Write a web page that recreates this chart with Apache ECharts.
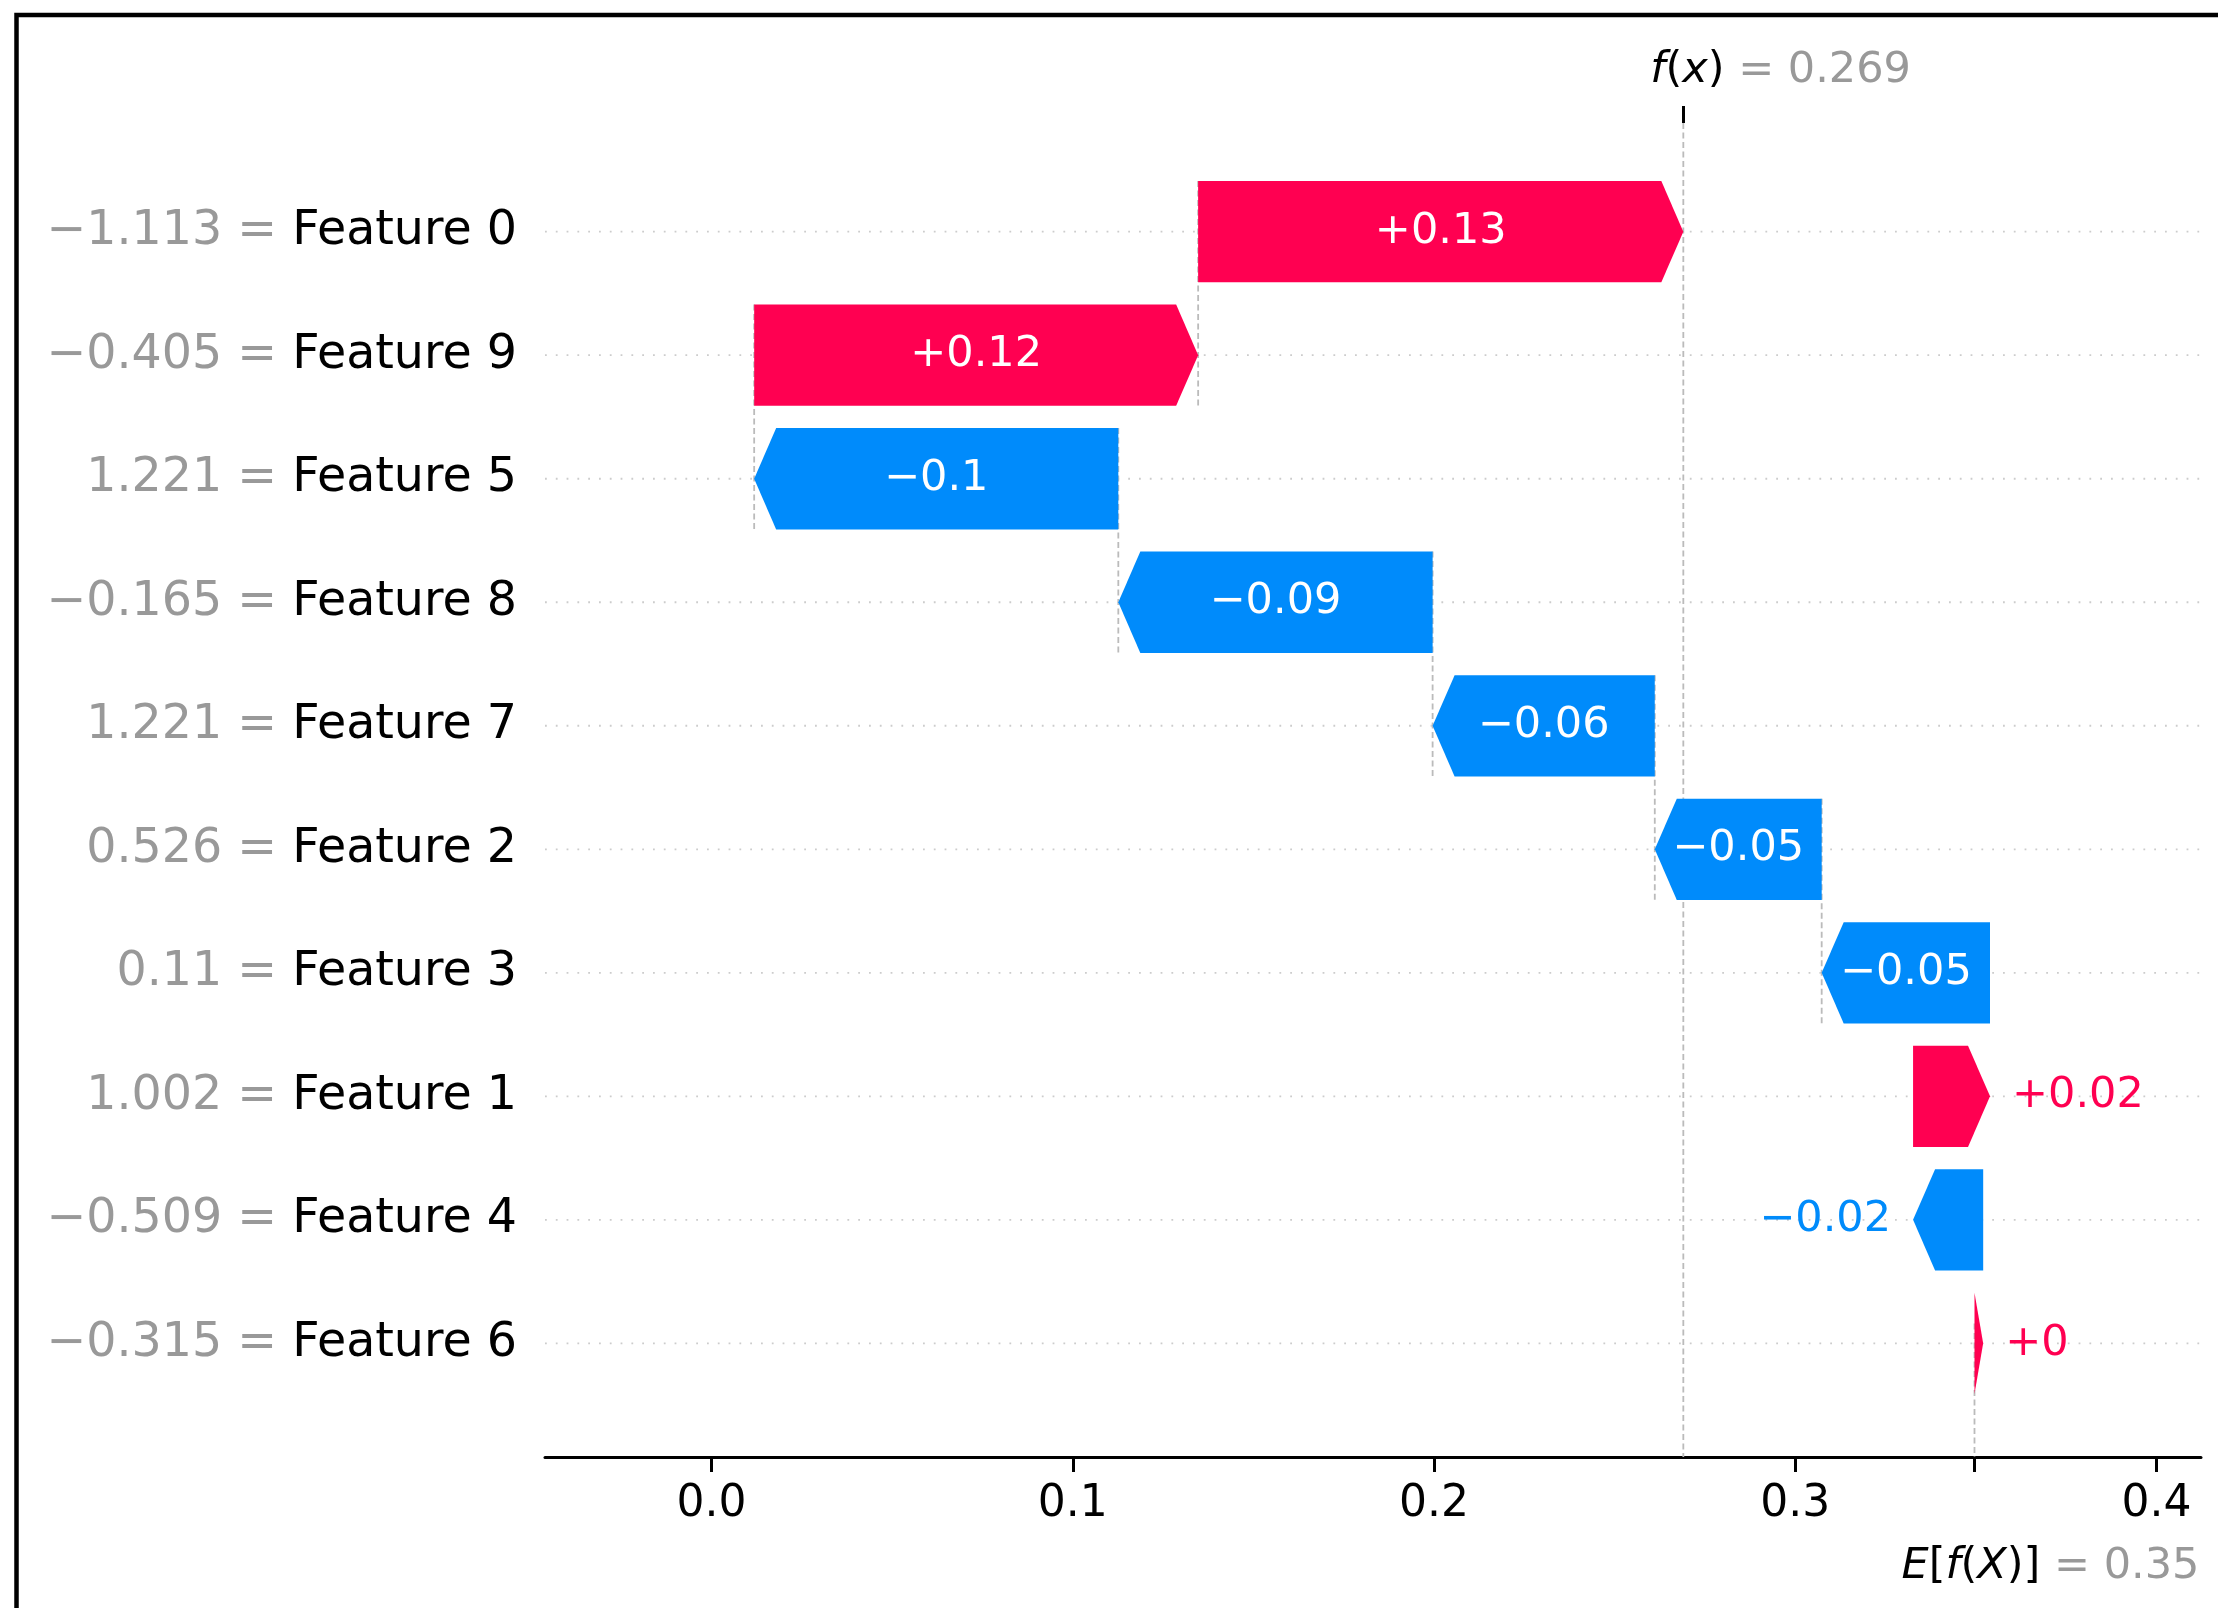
<!DOCTYPE html>
<html>
<head>
<meta charset="utf-8">
<title>waterfall</title>
<script src="https://cdn.jsdelivr.net/npm/echarts@6/dist/echarts.min.js"></script>
<style>
  html, body { margin: 0; padding: 0; background: #fff; }
  #chart { width: 2218px; height: 1608px; }
</style>
</head>
<body>
<div id="chart"></div>
<script>
// rows, top to bottom
const featureNames = ["Feature 0", "Feature 9", "Feature 5", "Feature 8", "Feature 7",
                      "Feature 2", "Feature 3", "Feature 1", "Feature 4", "Feature 6"];
const featureValues = [-1.113, -0.405, 1.221, -0.165, 1.221, 0.526, 0.11, 1.002, -0.509, -0.315];
const shapValues = [0.1343, 0.1229, -0.1008, -0.087, -0.0615, -0.0462, -0.0466, 0.0213, -0.0194, 0.0024];
const baseValue = 0.3496; // E[f(X)]
const xTicks = [0, 0.1, 0.2, 0.3, 0.4];

const X_MIN = -0.0461, X_MAX = 0.4123;
const Y_MIN = -0.88, Y_MAX = 9.92;
const BAR_HALF = 0.41;
const RED = "#ff0051", BLUE = "#008bfb";
const FONT = '"DejaVu Sans", sans-serif';

// matplotlib style numbers: trailing zeros dropped, real minus sign
function fmt(v, digits, plus) {
  let s = v.toFixed(digits);
  if (s.indexOf(".") >= 0) s = s.replace(/0+$/, "").replace(/\.$/, "");
  if (plus && v >= 0) s = "+" + s;
  return s.replace("-", "\u2212");
}

const fxValue = baseValue + shapValues.reduce((a, b) => a + b, 0);

// walk down from f(x): each bar ends where the previous one started
let loc = fxValue;
const barData = shapValues.map((v, i) => {
  const end = loc;
  const start = loc - v;
  loc = start;
  return [start, end, i, v];
});

const ctx = document.createElement("canvas").getContext("2d");
ctx.font = "43px " + FONT;

function renderGuide(params, api) {
  const start = api.value(0), i = api.value(2);
  const a = api.coord([X_MIN, i]), b = api.coord([X_MAX, i]);
  const children = [{
    type: "line",
    shape: { x1: a[0], y1: a[1], x2: b[0], y2: b[1] },
    style: { stroke: "#cccccc", lineWidth: 1.8, lineDash: [1.8, 9] }
  }];
  // connectors only for the upper rows, like shap does
  if (i + 4 < shapValues.length) {
    const t = api.coord([start, i - BAR_HALF]), btm = api.coord([start, i + 1 + BAR_HALF]);
    children.push({
      type: "line",
      shape: { x1: t[0], y1: t[1], x2: btm[0], y2: btm[1] },
      style: { stroke: "#bbbbbb", lineWidth: 1.8, lineDash: [6, 3.5] }
    });
  }
  return { type: "group", children: children };
}

function renderRefs(params, api) {
  const fx = api.value(0), base = api.value(1);
  const rowSpan = (Y_MAX - Y_MIN) / shapValues.length;
  const fTop = api.coord([fx, Y_MIN]), fBot = api.coord([fx, Y_MAX]);
  const eTop = api.coord([base, Y_MAX - rowSpan]), eBot = api.coord([base, Y_MAX]);
  const dash = { stroke: "#bbbbbb", lineWidth: 1.8, lineDash: [6, 3.5] };
  const rich = {
    i: { fontStyle: "italic", fill: "#000", color: "#000", fontSize: 43, fontFamily: FONT },
    n: { fill: "#000", color: "#000", fontSize: 43, fontFamily: FONT },
    g: { fill: "#999999", color: "#999999", fontSize: 43, fontFamily: FONT }
  };
  return {
    type: "group",
    children: [
      { type: "line", shape: { x1: fTop[0], y1: fTop[1], x2: fBot[0], y2: fBot[1] }, style: dash },
      { type: "line", shape: { x1: eTop[0], y1: eTop[1], x2: eBot[0], y2: eBot[1] }, style: dash },
      {
        type: "text", x: fTop[0] - 33, y: fTop[1] - 52,
        style: {
          text: "{i|f}{n|(}{i|x}{n|) }{g|= " + fmt(fx, 3) + "}",
          rich: rich, align: "left", verticalAlign: "middle", fontSize: 43, fontFamily: FONT
        }
      },
      {
        type: "text", x: eBot[0] - 73, y: eBot[1] + 110,
        style: {
          text: "{i|E}{n|[}{i|f}{n|(}{i|X}{n|)] }{g|= " + fmt(base, 3) + "}",
          rich: rich, align: "left", verticalAlign: "middle", fontSize: 43, fontFamily: FONT
        }
      }
    ]
  };
}

function renderBar(params, api) {
  const start = api.value(0), end = api.value(1), i = api.value(2), v = api.value(3);
  const color = v >= 0 ? RED : BLUE;
  const pTop = api.coord([start, i - BAR_HALF]);
  const pBot = api.coord([start, i + BAR_HALF]);
  const pMid = api.coord([end, i]);
  const x0 = pTop[0], x1 = pMid[0], yT = pTop[1], yB = pBot[1], yM = pMid[1];
  const w = Math.abs(x1 - x0), dir = x1 >= x0 ? 1 : -1;
  const head = Math.min(22, w);
  const xb = x1 - dir * head;
  const label = fmt(v, 2, true);
  const tw = ctx.measureText(label).width;
  let text;
  if (tw + 16 < w) {
    text = { type: "text", x: (x0 + x1) / 2, y: yM,
      style: { text: label, fill: "#fff", align: "center", verticalAlign: "middle", fontSize: 43, fontFamily: FONT } };
  } else {
    text = { type: "text", x: x1 + dir * 22, y: yM,
      style: { text: label, fill: color, align: dir > 0 ? "left" : "right", verticalAlign: "middle", fontSize: 43, fontFamily: FONT } };
  }
  return {
    type: "group",
    children: [
      { type: "polygon", shape: { points: [[x0, yT], [xb, yT], [x1, yM], [xb, yB], [x0, yB]] }, style: { fill: color } },
      text
    ]
  };
}

const chart = echarts.init(document.getElementById("chart"));
chart.setOption({
  backgroundColor: "#fff",
  animation: false,
  textStyle: { fontFamily: FONT },
  graphic: [{
    type: "rect",
    shape: { x: 16.5, y: 15, width: 3000, height: 3000 },
    style: { fill: null, stroke: "#000", lineWidth: 4.5 },
    z: 100
  }],
  grid: { left: 545, right: 17, top: 123, bottom: 151, containLabel: false, outerBoundsMode: "none" },
  xAxis: [{
    type: "value", position: "bottom", min: X_MIN, max: X_MAX,
    axisLine: { show: true, onZero: false, lineStyle: { color: "#000", width: 3 } },
    axisTick: { show: true, length: 15, lineStyle: { color: "#000", width: 3 }, customValues: xTicks.concat([baseValue]) },
    axisLabel: { customValues: xTicks, formatter: v => v.toFixed(1), fontSize: 44, fontFamily: FONT, color: "#000", margin: 26 },
    splitLine: { show: false }
  }, {
    type: "value", position: "top", min: X_MIN, max: X_MAX,
    axisLine: { show: false, onZero: false },
    axisTick: { show: true, length: 17, lineStyle: { color: "#000", width: 3 }, customValues: [fxValue] },
    axisLabel: { show: false },
    splitLine: { show: false }
  }],
  yAxis: {
    type: "value", inverse: true, min: Y_MIN, max: Y_MAX,
    axisLine: { show: false, onZero: false },
    axisTick: { show: false },
    splitLine: { show: false },
    axisLabel: {
      customValues: featureNames.map((n, i) => i),
      margin: 28,
      formatter: v => {
        const i = Math.round(v);
        return "{v|" + fmt(featureValues[i], 3) + " = }{n|" + featureNames[i] + "}";
      },
      rich: {
        v: { color: "#999999", fontSize: 47.5, fontFamily: FONT },
        n: { color: "#000", fontSize: 47.5, fontFamily: FONT }
      }
    }
  },
  series: [
    { type: "custom", name: "guides", renderItem: renderGuide, data: barData, clip: false, z: 1, silent: true },
    { type: "custom", name: "refs", renderItem: renderRefs, data: [[fxValue, baseValue]], clip: false, z: 1, silent: true },
    { type: "custom", name: "shap", renderItem: renderBar, data: barData, clip: false, z: 2,
      encode: { x: [0, 1], y: 2 } }
  ]
});
</script>
</body>
</html>
